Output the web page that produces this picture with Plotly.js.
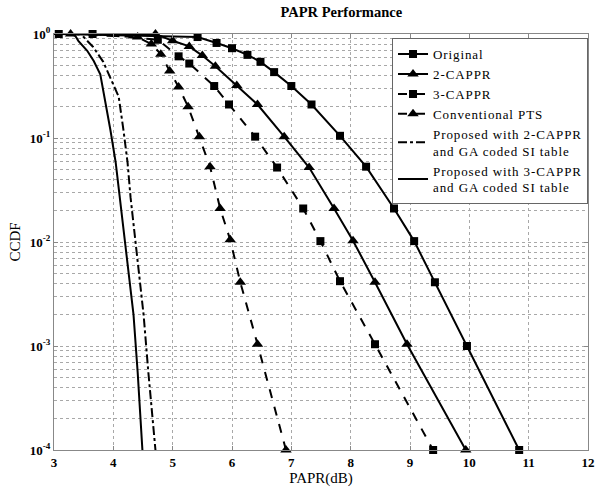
<!DOCTYPE html>
<html>
<head>
<meta charset="utf-8">
<script src="https://cdn.plot.ly/plotly-3.0.1.min.js"></script>
<style>
html,body{margin:0;padding:0;background:#fff;}
#chart{width:597px;height:487px;}
.legendtext{letter-spacing:0.9px;}
</style>
</head>
<body>
<div id="chart"></div>
<script>
// ---- data (PAPR in dB, CCDF) ----
var startX = 3, startY = 1;

var originalX = [3.08, 5.42, 5.74, 6.0, 6.26, 6.48, 6.71, 7.0, 7.34, 7.82, 8.26, 8.73, 9.07, 9.42, 9.96, 10.84];
var originalY = [1, 0.935, 0.82, 0.73, 0.63, 0.54, 0.43, 0.316, 0.21, 0.105, 0.053, 0.021, 0.0102, 0.0041, 0.001, 0.0001];

var cappr2X = [4.71, 5.0, 5.28, 5.5, 5.72, 6.08, 6.43, 6.88, 7.3, 7.72, 8.04, 8.41, 8.95, 9.94];
var cappr2Y = [1, 0.86, 0.76, 0.62, 0.49, 0.32, 0.21, 0.103, 0.052, 0.021, 0.0103, 0.0041, 0.00104, 0.0001];

var cappr3X = [3.65, 4.75, 5.1, 5.28, 5.7, 5.95, 6.39, 6.76, 7.2, 7.49, 7.82, 8.41, 9.39];
var cappr3Y = [1, 0.88, 0.61, 0.52, 0.316, 0.21, 0.103, 0.052, 0.021, 0.0102, 0.0042, 0.00104, 0.0001];

var ptsX = [3.28, 4.41, 4.64, 4.8, 4.95, 5.1, 5.26, 5.45, 5.63, 5.8, 5.97, 6.14, 6.43, 6.91];
var ptsY = [1, 0.935, 0.8, 0.64, 0.44, 0.31, 0.2, 0.103, 0.053, 0.021, 0.0105, 0.0041, 0.00104, 0.0001];

var prop2X = [3, 3.45, 3.5, 3.66, 3.83, 3.92, 4.09, 4.17, 4.24, 4.29, 4.37, 4.51, 4.59, 4.71];
var prop2Y = [1, 1, 0.935, 0.75, 0.54, 0.41, 0.25, 0.12, 0.058, 0.027, 0.0106, 0.002, 0.00056, 0.0001];

var prop3X = [3, 3.3, 3.36, 3.41, 3.56, 3.67, 3.78, 3.82, 3.95, 4.04, 4.12, 4.2, 4.34, 4.41, 4.49];
var prop3Y = [1, 1, 0.956, 0.86, 0.69, 0.55, 0.41, 0.31, 0.12, 0.058, 0.024, 0.0106, 0.002, 0.00056, 0.0001];

var xTicks = [3, 4, 5, 6, 7, 8, 9, 10, 11, 12];
var yTickVals = [1e-4, 1e-3, 1e-2, 1e-1, 1];
var yTickText = ['10<sup>-4</sup>', '10<sup>-3</sup>', '10<sup>-2</sup>', '10<sup>-1</sup>', '10<sup>0</sup>'];

var names = ['Original', '2-CAPPR', '3-CAPPR', 'Conventional PTS',
  'Proposed with 2-CAPPR<br>and GA coded SI table',
  'Proposed with 3-CAPPR<br>and GA coded SI table'];

// ---- traces ----
var FONT = 'Liberation Serif, Times New Roman, serif';
var traces = [];
function markerSeries(xs, ys, name, symbol, dash, size) {
  // lead-in from the axis start to the first marker
  traces.push({x: [startX, xs[0]], y: [startY, ys[0]], mode: 'lines', showlegend: false,
    hoverinfo: 'skip', line: {color: '#000', width: 2, dash: dash}});
  traces.push({x: xs, y: ys, name: name, mode: 'lines+markers', cliponaxis: false,
    line: {color: '#000', width: 2, dash: dash},
    marker: {symbol: symbol, size: size, color: '#000'}});
}
markerSeries(originalX, originalY, names[0], 'square', 'solid', 8);
markerSeries(cappr2X, cappr2Y, names[1], 'triangle-up', 'solid', 10);
markerSeries(cappr3X, cappr3Y, names[2], 'square', 'dash', 8);
markerSeries(ptsX, ptsY, names[3], 'triangle-up', 'dash', 10);
traces.push({x: prop2X, y: prop2Y, name: names[4], mode: 'lines',
  line: {color: '#000', width: 2, dash: 'dashdot'}});
traces.push({x: prop3X, y: prop3Y, name: names[5], mode: 'lines',
  line: {color: '#000', width: 2, dash: 'solid'}});

var gridCol = '#a8a8a8';
var layout = {
  width: 597, height: 487,
  margin: {l: 53.5, r: 9, t: 34, b: 37},
  paper_bgcolor: '#fff', plot_bgcolor: '#fff',
  font: {family: FONT, color: '#000', size: 12},
  showlegend: true,
  title: {text: 'PAPR Performance', x: 0.538, xanchor: 'center', xref: 'paper', y: 0.985, yanchor: 'top',
    font: {family: FONT, size: 14.5, weight: 'bold'}},
  xaxis: {
    range: [3, 12], tickvals: xTicks, ticks: 'inside', ticklen: 4, tickcolor: '#888',
    showline: true, linecolor: '#888', linewidth: 1, mirror: 'ticks',
    showgrid: true, gridcolor: gridCol, griddash: 'dot', gridwidth: 1, zeroline: false,
    tickfont: {family: FONT, size: 13, weight: 'bold'},
    title: {text: 'PAPR(dB)', standoff: 1, font: {family: FONT, size: 15}}
  },
  yaxis: {
    type: 'log', range: [-4, 0], tickvals: yTickVals, ticktext: yTickText,
    ticks: 'inside', ticklen: 4, tickcolor: '#888',
    showline: true, linecolor: '#888', linewidth: 1, mirror: 'ticks',
    showgrid: true, gridcolor: gridCol, griddash: 'dot', gridwidth: 1, zeroline: false,
    minor: {dtick: 'D1', showgrid: true, gridcolor: gridCol, griddash: 'dot', gridwidth: 1, ticks: ''},
    tickfont: {family: FONT, size: 13, weight: 'bold'},
    title: {text: 'CCDF', standoff: 5, font: {family: FONT, size: 15}}
  },
  legend: {
    x: 0.633, y: 0.99, xanchor: 'left', yanchor: 'top',
    bgcolor: '#fff', bordercolor: '#666', borderwidth: 1,
    font: {family: FONT, size: 13}, tracegroupgap: 0, itemwidth: 30
  }
};

Plotly.newPlot('chart', traces, layout, {displayModeBar: false, staticPlot: true});
</script>
</body>
</html>
